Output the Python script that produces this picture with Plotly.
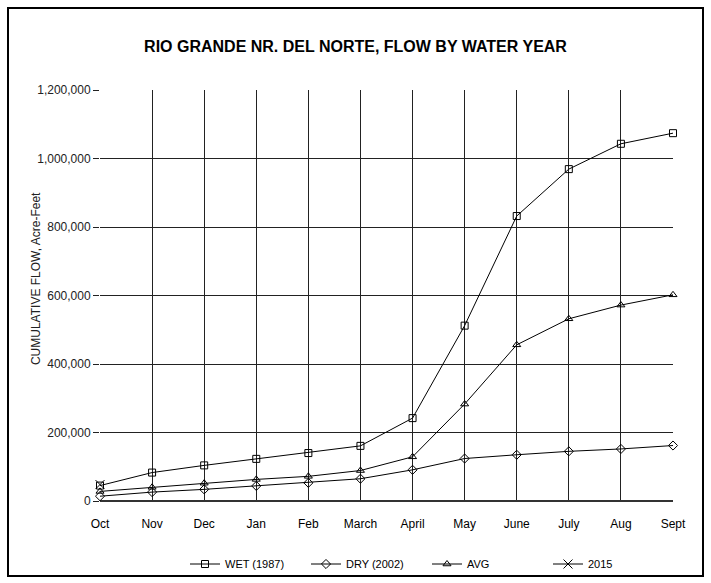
import plotly.graph_objects as go

months = ["Oct", "Nov", "Dec", "Jan", "Feb", "March", "April", "May", "June", "July", "Aug", "Sept"]

wet_1987 = [45000, 83000, 104000, 123000, 140000, 161000, 242000, 512000, 832000, 969000, 1043000, 1074000]
dry_2002 = [14000, 26000, 34000, 44000, 53000, 65000, 91000, 124000, 135000, 145000, 152000, 162000]
avg_flow = [28000, 40000, 52000, 63000, 72000, 89000, 129000, 283000, 456000, 532000, 572000, 602000]
y_2015 = [48000]

tick_vals = [0, 200000, 400000, 600000, 800000, 1000000, 1200000]
tick_text = ["0", "200,000", "400,000", "600,000", "800,000", "1,000,000", "1,200,000"]

# ----------------------------------------------------------------------------------------------------------------------

fig = go.Figure()


def add_series(y, name, symbol, size=7, x=months):
    fig.add_trace(go.Scatter(
        x=x[:len(y)], y=y, name=name, mode="lines+markers", cliponaxis=False,
        line=dict(color="black", width=1),
        marker=dict(symbol=symbol, size=size, color="black",
                    line=dict(color="black", width=1)),
    ))


add_series(wet_1987, "WET (1987)", "square-open")
add_series(dry_2002, "DRY (2002)", "diamond-open")
add_series(avg_flow, "AVG", "triangle-up-open")
add_series(y_2015, "2015", "x-thin-open", size=9)

fig.update_layout(
    width=711, height=583,
    paper_bgcolor="white", plot_bgcolor="white",
    margin=dict(l=100, r=38, t=90, b=82, autoexpand=False),
    font=dict(family="Liberation Sans, Arial", size=12, color="#222"),
    title=dict(text="<b>RIO GRANDE NR. DEL NORTE, FLOW BY WATER YEAR</b>",
               x=0.5, xanchor="center", y=0.92, yanchor="middle",
               font=dict(family="Liberation Sans, Arial", size=16, color="black")),
    showlegend=True,
    legend=dict(orientation="h", x=85 / 573, xanchor="left", y=-63 / 411, yanchor="middle",
                font=dict(size=11, color="black"), entrywidth=76, entrywidthmode="pixels",
                bgcolor="rgba(0,0,0,0)"),
)

fig.update_xaxes(
    type="category", range=[0, 11], showgrid=True, gridcolor="#222", gridwidth=1,
    showline=False, ticks="outside", ticklen=12, tickcolor="rgba(0,0,0,0)",
    tickfont=dict(size=12, color="black"), automargin=False,
)
fig.update_yaxes(
    range=[0, 1200000], tickvals=tick_vals, ticktext=tick_text,
    showgrid=True, gridcolor="#222", gridwidth=1,
    zeroline=True, zerolinecolor="#333", zerolinewidth=2,
    showline=False, ticks="outside", ticklen=6, tickcolor="#222",
    tickfont=dict(size=12, color="#222"), automargin=False,
)

# axis title placed as a rotated annotation
fig.add_annotation(text="CUMULATIVE FLOW, Acre-Feet", textangle=-90,
                   xref="paper", yref="paper", x=-64 / 573, y=0.54,
                   xanchor="center", yanchor="middle", showarrow=False,
                   font=dict(size=12, color="#222"))

# outer frame around the whole chart
fig.add_shape(type="rect", xref="paper", yref="paper",
              x0=-92 / 573, x1=1 + 30 / 573, y0=-75 / 411, y1=1 + 82 / 411,
              line=dict(color="black", width=2))

fig.write_html("out.html", config={"displayModeBar": False},
               post_script="document.body.style.margin='0';")
